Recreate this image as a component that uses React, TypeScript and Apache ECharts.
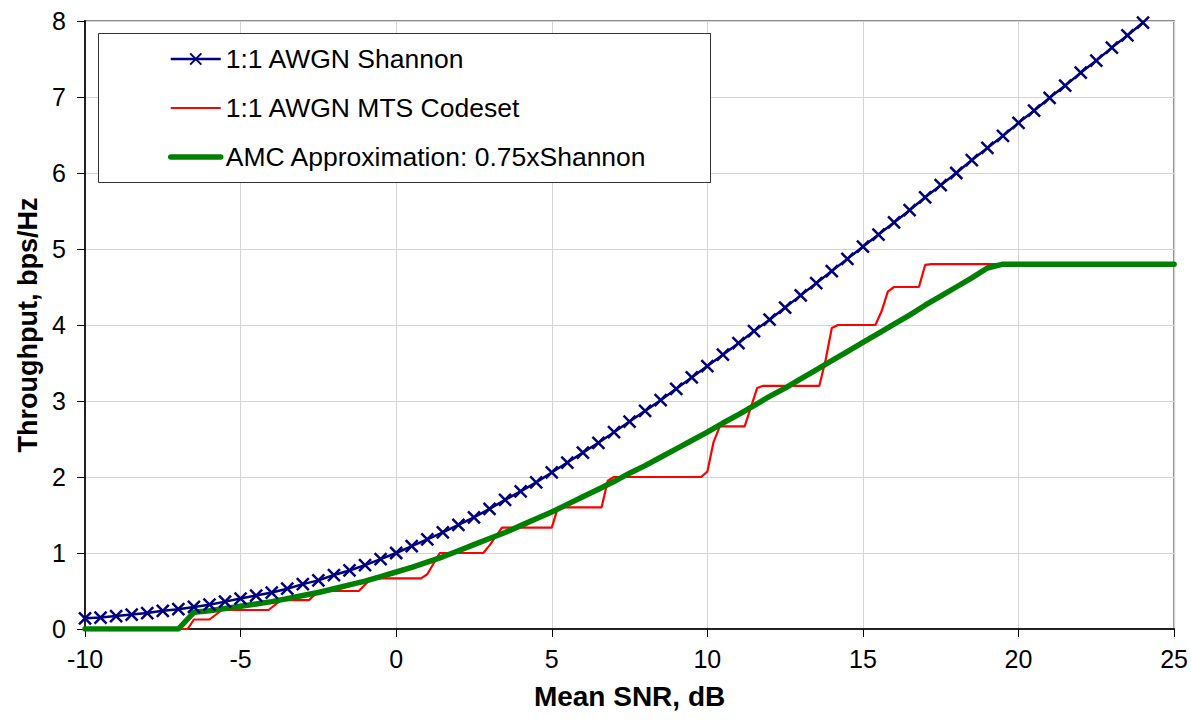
import React, { useEffect, useRef } from "react";
import * as echarts from "echarts";

const xTicks = [-10, -5, 0, 5, 10, 15, 20, 25];
const yTicks = [0, 1, 2, 3, 4, 5, 6, 7, 8];

const shannonX = [
  -10, -9.5, -9, -8.5, -8, -7.5, -7, -6.5, -6, -5.5, -5, -4.5, -4, -3.5, -3, -2.5, -2, -1.5, -1, -0.5,
  0, 0.5, 1, 1.5, 2, 2.5, 3, 3.5, 4, 4.5, 5, 5.5, 6, 6.5, 7, 7.5, 8, 8.5, 9, 9.5,
  10, 10.5, 11, 11.5, 12, 12.5, 13, 13.5, 14, 14.5, 15, 15.5, 16, 16.5, 17, 17.5, 18, 18.5, 19, 19.5,
  20, 20.5, 21, 21.5, 22, 22.5, 23, 23.5, 24,
];
const shannonY = [
  0.14, 0.15, 0.17, 0.19, 0.21, 0.24, 0.26, 0.29, 0.32, 0.36, 0.4, 0.44, 0.48, 0.53, 0.59, 0.64, 0.71, 0.77, 0.84, 0.92,
  1.0, 1.09, 1.18, 1.27, 1.37, 1.47, 1.58, 1.7, 1.81, 1.93, 2.06, 2.19, 2.32, 2.45, 2.59, 2.73, 2.87, 3.01, 3.16, 3.31,
  3.46, 3.61, 3.76, 3.92, 4.07, 4.23, 4.39, 4.55, 4.71, 4.87, 5.03, 5.19, 5.35, 5.51, 5.68, 5.84, 6.0, 6.17, 6.33, 6.49,
  6.66, 6.82, 6.99, 7.15, 7.32, 7.48, 7.65, 7.81, 7.98,
];

const mtsX = [
  -10, -6.7, -6.5, -6.0, -5.6, -4.1, -3.7, -2.8, -2.5, -1.2, -0.8, 0.8, 1.0, 1.4, 2.8, 3.0, 3.4, 5.0, 5.2,
  6.6, 6.8, 7.0, 9.8, 10.0, 10.2, 10.4, 11.2, 11.6, 11.8, 13.6, 13.8, 14.0, 14.2, 15.4, 15.6, 15.8, 16.0,
  16.8, 17.0, 17.2, 20,
];
const mtsY = [
  0, 0, 0.125, 0.125, 0.25, 0.25, 0.38, 0.38, 0.5, 0.5, 0.667, 0.667, 0.72, 1.0, 1.0, 1.1, 1.333, 1.333, 1.6,
  1.6, 1.95, 2.0, 2.0, 2.07, 2.46, 2.667, 2.667, 3.17, 3.2, 3.2, 3.54, 3.96, 4.0, 4.0, 4.18, 4.44, 4.5,
  4.5, 4.79, 4.8, 4.8,
];

const amcX = [
  -10, -7, -6.5, -6, -5.5, -5, -4.5, -4, -3.5, -3, -2.5, -2, -1.5, -1, -0.5, 0, 0.5, 1, 1.5, 2, 2.5, 3, 3.5,
  4, 4.5, 5, 5.5, 6, 6.5, 7, 7.5, 8, 8.5, 9, 9.5, 10, 10.5, 11, 11.5, 12, 12.5, 13, 13.5, 14, 14.5, 15, 15.5,
  16, 16.5, 17, 17.5, 18, 18.5, 19, 19.5, 25,
];
const amcY = [
  0, 0, 0.22, 0.24, 0.27, 0.3, 0.33, 0.36, 0.4, 0.44, 0.48, 0.53, 0.58, 0.63, 0.69, 0.75, 0.81, 0.88, 0.95,
  1.03, 1.11, 1.19, 1.27, 1.36, 1.45, 1.54, 1.64, 1.74, 1.84, 1.94, 2.05, 2.15, 2.26, 2.37, 2.48, 2.59, 2.71,
  2.82, 2.94, 3.06, 3.17, 3.29, 3.41, 3.53, 3.65, 3.77, 3.89, 4.01, 4.13, 4.26, 4.38, 4.5, 4.62, 4.75, 4.8, 4.8,
];

const seriesNames = ["1:1 AWGN Shannon", "1:1 AWGN MTS Codeset", "AMC Approximation: 0.75xShannon"];
const xAxisName = "Mean SNR, dB";
const yAxisName = "Throughput, bps/Hz";

const zip = (xs: number[], ys: number[]) => xs.map((x, i) => [x, ys[i]]);

const FONT = "'Liberation Sans', Arial, sans-serif";

export default function App() {
  const ref = useRef<HTMLDivElement>(null);
  useEffect(() => {
    if (!ref.current) return;
    const chart = echarts.init(ref.current, undefined, { renderer: "svg" });
    chart.setOption({
      animation: false,
      backgroundColor: "#ffffff",
      textStyle: { fontFamily: FONT },
      grid: {
        left: 85,
        right: 16,
        top: 21,
        bottom: 95,
        show: true,
        borderColor: "#8c8c8c",
        borderWidth: 2,
      },
      graphic: [
        {
          type: "rect",
          z: 3,
          shape: { x: 98.5, y: 33.5, width: 612, height: 149 },
          style: { fill: "#ffffff", stroke: "#333333", lineWidth: 1 },
        },
      ],
      legend: {
        orient: "vertical",
        left: 168,
        top: 44,
        padding: 0,
        itemGap: 19,
        itemWidth: 50,
        itemHeight: 14,
        z: 5,
        data: [
          { name: seriesNames[0], lineStyle: { width: 2.5 } },
          { name: seriesNames[1], itemStyle: { opacity: 0 }, lineStyle: { width: 2.2 } },
          { name: seriesNames[2], itemStyle: { opacity: 0 }, lineStyle: { width: 5.5, cap: "round" } },
        ],
        textStyle: { fontFamily: FONT, fontSize: 26.5, color: "#000", lineHeight: 30 },
      },
      xAxis: {
        type: "value",
        min: xTicks[0],
        max: xTicks[xTicks.length - 1],
        interval: 5,
        name: xAxisName,
        nameLocation: "middle",
        nameGap: 53,
        nameTextStyle: { fontFamily: FONT, fontSize: 28, fontWeight: "bold", color: "#000" },
        axisLine: { show: true, onZero: false, lineStyle: { color: "#222", width: 2 } },
        axisTick: { show: true, length: 8, lineStyle: { color: "#000", width: 1 } },
        axisLabel: { fontFamily: FONT, fontSize: 25, color: "#000", margin: 17 },
        splitLine: { show: true, lineStyle: { color: "#d4d4d4", width: 1 } },
      },
      yAxis: {
        type: "value",
        min: yTicks[0],
        max: yTicks[yTicks.length - 1],
        interval: 1,
        name: yAxisName,
        nameLocation: "middle",
        nameGap: 44,
        nameTextStyle: { fontFamily: FONT, fontSize: 27, fontWeight: "bold", color: "#000" },
        axisLine: { show: true, onZero: false, lineStyle: { color: "#222", width: 2 } },
        axisTick: { show: true, length: 8, lineStyle: { color: "#000", width: 1 } },
        axisLabel: { fontFamily: FONT, fontSize: 25, color: "#000", margin: 19 },
        splitLine: { show: true, lineStyle: { color: "#d4d4d4", width: 1 } },
      },
      series: [
        {
          name: seriesNames[0],
          type: "line",
          data: zip(shannonX, shannonY),
          symbol: "path://M0,0L10,10M10,0L0,10",
          symbolSize: 12,
          showSymbol: true,
          z: 4,
          lineStyle: { color: "#000080", width: 2.5 },
          itemStyle: { color: "#000080", borderColor: "#000080", borderWidth: 2.5 },
        },
        {
          name: seriesNames[1],
          type: "line",
          data: zip(mtsX, mtsY),
          symbol: "none",
          z: 2,
          lineStyle: { color: "#ff0000", width: 2.2 },
          itemStyle: { color: "#ff0000" },
        },
        {
          name: seriesNames[2],
          type: "line",
          data: zip(amcX, amcY),
          symbol: "none",
          z: 3,
          lineStyle: { color: "#008000", width: 5.5, cap: "round", join: "round" },
          itemStyle: { color: "#008000" },
        },
      ],
    });
    return () => chart.dispose();
  }, []);
  return (
    <div
      ref={ref}
      style={{ position: "absolute", left: 0, top: 0, width: 1191, height: 724 }}
    />
  );
}
